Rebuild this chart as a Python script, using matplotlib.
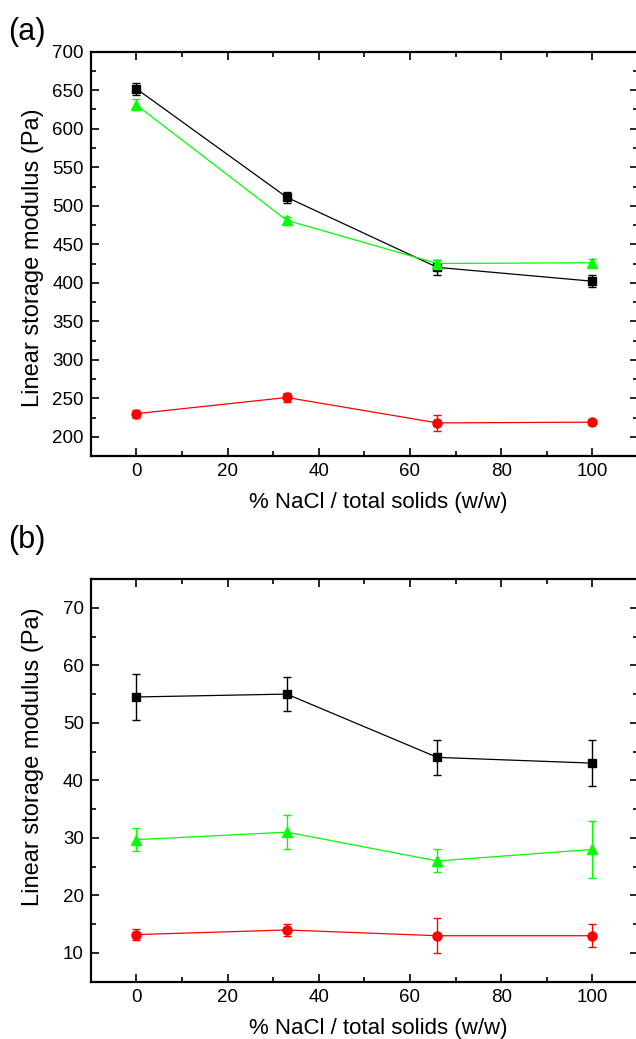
import matplotlib
matplotlib.use('Agg')

import matplotlib.pyplot as plt
from matplotlib.ticker import MultipleLocator

plt.rcParams['font.family'] = ['Liberation Sans', 'DejaVu Sans']

# x positions (% NaCl / total solids)
nacl = [0, 33, 66, 100]

# panel (a)
a_black = [652, 511, 420, 402]
a_black_err = [8, 7.5, 10, 8]
a_green = [631, 481, 425, 426]
a_green_err = [7, 5, 5, 5]
a_red = [230, 251, 218, 219]
a_red_err = [5, 6, 10, 3]

# panel (b)
b_black = [54.5, 55.0, 44.0, 43.0]
b_black_err = [4, 3, 3, 4]
b_green = [29.7, 31.0, 26.0, 28.0]
b_green_err = [2, 3, 2, 5]
b_red = [13.2, 14.0, 13.0, 13.0]
b_red_err = [0.9, 1, 3, 2]

fig = plt.figure(figsize=(6.36, 10.39), dpi=100)
ax1 = fig.add_axes([0.1426, 0.5611, 0.8605, 0.3891])
ax2 = fig.add_axes([0.1426, 0.0551, 0.8605, 0.3876])


def draw(ax, series):
    for y, err, color, marker, ms in series:
        ax.errorbar(nacl, y, yerr=err, color=color, marker=marker, markersize=ms,
                    linewidth=0.9, elinewidth=1.0, capsize=3, capthick=1.0)


draw(ax1, [(a_black, a_black_err, 'black', 's', 6),
           (a_red, a_red_err, '#ff0000', 'o', 6.5),
           (a_green, a_green_err, '#00ff00', '^', 7)])
draw(ax2, [(b_black, b_black_err, 'black', 's', 6),
           (b_red, b_red_err, '#ff0000', 'o', 6.5),
           (b_green, b_green_err, '#00ff00', '^', 7)])

ax1.set_ylim(175, 700)
ax1.yaxis.set_major_locator(MultipleLocator(50))
ax1.yaxis.set_minor_locator(MultipleLocator(25))
ax2.set_ylim(5, 75)
ax2.yaxis.set_major_locator(MultipleLocator(10))
ax2.yaxis.set_minor_locator(MultipleLocator(5))

for ax in (ax1, ax2):
    ax.set_xlim(-10, 110)
    ax.xaxis.set_major_locator(MultipleLocator(20))
    ax.xaxis.set_minor_locator(MultipleLocator(10))
    ax.tick_params(which='both', direction='in', top=True, right=True,
                   labelsize=13.5, width=1.2)
    ax.tick_params(which='major', length=6, pad=5)
    ax.tick_params(which='minor', length=3.5)
    for s in ax.spines.values():
        s.set_linewidth(1.6)
    ax.set_xlabel('% NaCl / total solids (w/w)', fontsize=16)
    ax.set_ylabel('Linear storage modulus (Pa)', fontsize=17)
    ax.xaxis.set_label_coords(0.525, -0.09)

ax1.yaxis.set_label_coords(-0.085, 0.49)
ax2.yaxis.set_label_coords(-0.085, 0.56)

fig.text(0.012, 0.984, '(a)', fontsize=22, va='top', ha='left')
fig.text(0.012, 0.495, '(b)', fontsize=22, va='top', ha='left')

fig.savefig('out.png', dpi=100)
plt.close()
